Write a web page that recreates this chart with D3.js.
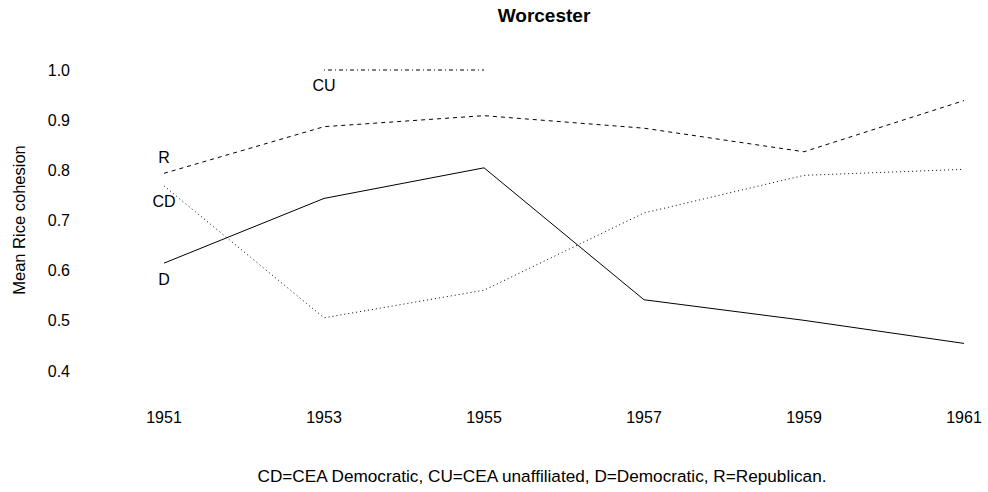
<!DOCTYPE html>
<html>
<head>
<meta charset="utf-8">
<script src="https://cdn.jsdelivr.net/npm/d3@7/dist/d3.min.js"></script>
<style>
  body { margin: 0; background: #fff; }
  text { font-family: "Liberation Sans", Arial, sans-serif; fill: #000; }
</style>
</head>
<body>
<svg id="chart" width="988" height="492"></svg>
<script>
const years = [1951, 1953, 1955, 1957, 1959, 1961];
const yTicks = [0.4, 0.5, 0.6, 0.7, 0.8, 0.9, 1.0];

// mean Rice cohesion per party, null where the party had no seats
const partyD = [0.615, 0.744, 0.805, 0.542, 0.501, 0.455];
const partyR = [0.794, 0.887, 0.909, 0.884, 0.837, 0.939];
const partyCD = [0.769, 0.506, 0.561, 0.715, 0.790, 0.802];
const partyCU = [null, 1.0, 1.0, null, null, null];

// where the series names are written: [year, value]
const labelNames = ['R', 'CD', 'D', 'CU'];
const labelYears = [1951, 1951, 1951, 1953];
const labelValues = [0.825, 0.739, 0.583, 0.969];

const caption = 'CD=CEA Democratic, CU=CEA unaffiliated, D=Democratic, R=Republican.';

const svg = d3.select('#chart');

const x = d3.scaleLinear().domain([1951, 1961]).range([164, 964]);
const y = d3.scaleLinear().domain([0.4, 1.0]).range([371, 70]);

const series = [
  { values: partyD, dash: null },
  { values: partyR, dash: '4,4' },
  { values: partyCD, dash: '1,3' },
  { values: partyCU, dash: '1,3,4,3' }
];

const line = d3.line()
  .defined(d => d[1] != null)
  .x(d => x(d[0]))
  .y(d => y(d[1]));

svg.append('g')
  .attr('fill', 'none')
  .attr('stroke', '#000')
  .attr('stroke-width', 1)
  .selectAll('path')
  .data(series)
  .join('path')
  .attr('d', s => line(years.map((yr, i) => [yr, s.values[i]])))
  .attr('stroke-dasharray', s => s.dash);

// tick labels only, no axis lines (as in the original)
svg.append('g')
  .attr('font-size', 16)
  .selectAll('text')
  .data(yTicks)
  .join('text')
  .attr('x', 70)
  .attr('y', d => y(d))
  .attr('dy', '0.35em')
  .attr('text-anchor', 'end')
  .text(d3.format('.1f'));

svg.append('g')
  .attr('font-size', 16)
  .selectAll('text')
  .data(years)
  .join('text')
  .attr('x', d => x(d))
  .attr('y', 423)
  .attr('text-anchor', 'middle')
  .text(d => d);

svg.append('g')
  .attr('font-size', 16)
  .selectAll('text')
  .data(labelNames)
  .join('text')
  .attr('x', (d, i) => x(labelYears[i]))
  .attr('y', (d, i) => y(labelValues[i]))
  .attr('dy', '0.35em')
  .attr('text-anchor', 'middle')
  .text(d => d);

svg.append('text')
  .attr('x', 544)
  .attr('y', 22)
  .attr('text-anchor', 'middle')
  .attr('font-size', 19)
  .attr('font-weight', 'bold')
  .text('Worcester');

svg.append('text')
  .attr('transform', 'translate(24.5,220) rotate(-90)')
  .attr('text-anchor', 'middle')
  .attr('font-size', 16.5)
  .text('Mean Rice cohesion');

svg.append('text')
  .attr('x', 542)
  .attr('y', 482)
  .attr('text-anchor', 'middle')
  .attr('font-size', 17.2)
  .text(caption);
</script>
</body>
</html>
